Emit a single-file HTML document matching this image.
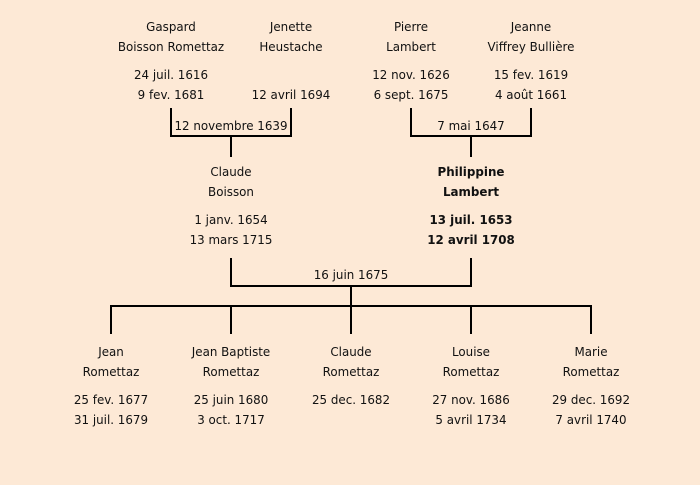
<!DOCTYPE html>
<html><head><meta charset="utf-8"><style>
body{margin:0;width:700px;height:485px;background:#fde9d6;position:relative;overflow:hidden;font-family:"DejaVu Sans","Liberation Sans",sans-serif;font-size:12.5px;color:#111}
.t{position:absolute;width:160px;margin-left:-80px;text-align:center;line-height:20px;white-space:nowrap;transform:scaleX(0.95)}
.b{font-weight:bold}
.l{position:absolute;background:#000}
</style></head><body>
<div class="t" style="left:171px;top:17px">Gaspard<br>Boisson Romettaz</div>
<div class="t" style="left:171px;top:65px">24 juil. 1616<br>9 fev. 1681</div>
<div class="t" style="left:291px;top:17px">Jenette<br>Heustache</div>
<div class="t" style="left:291px;top:85px">12 avril 1694</div>
<div class="t" style="left:411px;top:17px">Pierre<br>Lambert</div>
<div class="t" style="left:411px;top:65px">12 nov. 1626<br>6 sept. 1675</div>
<div class="t" style="left:531px;top:17px">Jeanne<br>Viffrey Bullière</div>
<div class="t" style="left:531px;top:65px">15 fev. 1619<br>4 août 1661</div>
<div class="t" style="left:231px;top:116px">12 novembre 1639</div>
<div class="t" style="left:471px;top:116px">7 mai 1647</div>
<div class="t" style="left:231px;top:162px">Claude<br>Boisson</div>
<div class="t" style="left:231px;top:210px">1 janv. 1654<br>13 mars 1715</div>
<div class="t b" style="left:471px;top:162px">Philippine<br>Lambert</div>
<div class="t b" style="left:471px;top:210px">13 juil. 1653<br>12 avril 1708</div>
<div class="t" style="left:351px;top:265px">16 juin 1675</div>
<div class="t" style="left:111px;top:342px">Jean<br>Romettaz</div>
<div class="t" style="left:111px;top:390px">25 fev. 1677<br>31 juil. 1679</div>
<div class="t" style="left:231px;top:342px">Jean Baptiste<br>Romettaz</div>
<div class="t" style="left:231px;top:390px">25 juin 1680<br>3 oct. 1717</div>
<div class="t" style="left:351px;top:342px">Claude<br>Romettaz</div>
<div class="t" style="left:351px;top:390px">25 dec. 1682</div>
<div class="t" style="left:471px;top:342px">Louise<br>Romettaz</div>
<div class="t" style="left:471px;top:390px">27 nov. 1686<br>5 avril 1734</div>
<div class="t" style="left:591px;top:342px">Marie<br>Romettaz</div>
<div class="t" style="left:591px;top:390px">29 dec. 1692<br>7 avril 1740</div>

<div class="l" style="left:170px;top:108px;width:2px;height:29px"></div>
<div class="l" style="left:290px;top:108px;width:2px;height:29px"></div>
<div class="l" style="left:170px;top:135px;width:122px;height:2px"></div>
<div class="l" style="left:230px;top:135px;width:2px;height:22px"></div>
<div class="l" style="left:410px;top:108px;width:2px;height:29px"></div>
<div class="l" style="left:530px;top:108px;width:2px;height:29px"></div>
<div class="l" style="left:410px;top:135px;width:122px;height:2px"></div>
<div class="l" style="left:470px;top:135px;width:2px;height:22px"></div>
<div class="l" style="left:230px;top:258px;width:2px;height:29px"></div>
<div class="l" style="left:470px;top:258px;width:2px;height:29px"></div>
<div class="l" style="left:230px;top:285px;width:242px;height:2px"></div>
<div class="l" style="left:350px;top:285px;width:2px;height:22px"></div>
<div class="l" style="left:110px;top:305px;width:482px;height:2px"></div>
<div class="l" style="left:110px;top:305px;width:2px;height:29px"></div>
<div class="l" style="left:230px;top:305px;width:2px;height:29px"></div>
<div class="l" style="left:350px;top:305px;width:2px;height:29px"></div>
<div class="l" style="left:470px;top:305px;width:2px;height:29px"></div>
<div class="l" style="left:590px;top:305px;width:2px;height:29px"></div>
</body></html>
